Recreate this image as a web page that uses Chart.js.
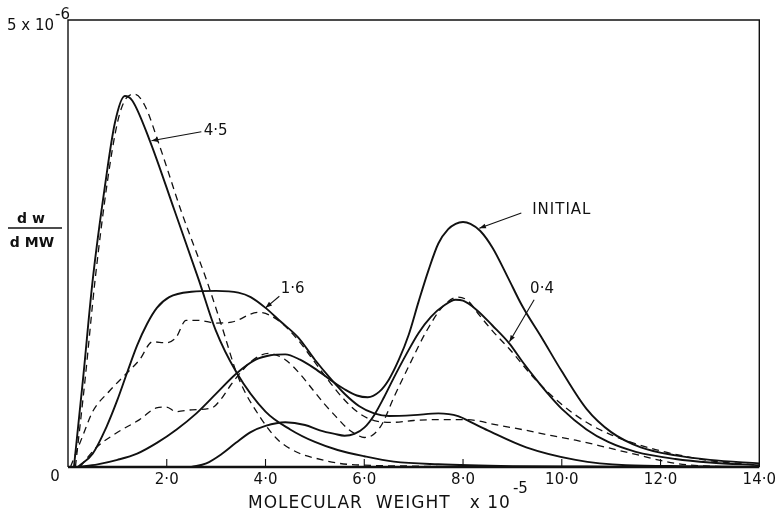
<!DOCTYPE html>
<html>
<head>
<meta charset="utf-8">
<script src="https://cdn.jsdelivr.net/npm/chart.js@4.4.1/dist/chart.umd.min.js"></script>
<style>
  html, body { margin: 0; padding: 0; background: #fff; }
  #wrap { width: 780px; height: 518px; }
</style>
</head>
<body>
<div id="wrap"><canvas id="mwChart" width="780" height="518"></canvas></div>
<script>
// molecular weight (x 10^5) vs dw/dMW (x 10^-6)
const xTicks = [0, 2, 4, 6, 8, 10, 12, 14];

const initialX = [0.2, 0.6, 1.0, 1.4, 1.8, 2.2, 2.6, 3.0, 3.4, 3.8, 4.1, 4.4, 4.7, 5.0, 5.3, 5.6, 5.85, 6.07, 6.3, 6.5, 6.7, 6.9, 7.1, 7.3, 7.5, 7.7, 7.85, 8.0, 8.15, 8.35, 8.6, 8.9, 9.2, 9.6, 10.0, 10.5, 11.0, 11.6, 12.3, 13.0, 14.0];
const initialY = [0, 0.03, 0.08, 0.15, 0.27, 0.42, 0.6, 0.82, 1.04, 1.2, 1.25, 1.26, 1.2, 1.1, 0.98, 0.87, 0.8, 0.78, 0.84, 0.98, 1.2, 1.48, 1.85, 2.2, 2.5, 2.66, 2.72, 2.74, 2.72, 2.64, 2.45, 2.13, 1.8, 1.44, 1.07, 0.65, 0.39, 0.22, 0.13, 0.08, 0.04];

const run04X = [2.5, 2.8, 3.1, 3.4, 3.7, 4.0, 4.4, 4.8, 5.1, 5.4, 5.6, 5.8, 6.0, 6.2, 6.4, 6.6, 6.85, 7.1, 7.35, 7.6, 7.85, 8.0, 8.27, 8.6, 8.94, 9.2, 9.48, 9.75, 10.0, 10.5, 10.94, 11.5, 12.3, 13.0, 14.0];
const run04Y = [0, 0.04, 0.14, 0.27, 0.39, 0.46, 0.5, 0.47, 0.41, 0.37, 0.35, 0.37, 0.44, 0.58, 0.78, 1.0, 1.26, 1.5, 1.68, 1.8, 1.87, 1.86, 1.76, 1.58, 1.38, 1.18, 0.98, 0.8, 0.65, 0.42, 0.28, 0.17, 0.09, 0.05, 0.02];

const calc04X = [0.24, 0.58, 0.98, 1.45, 1.79, 1.99, 2.19, 2.51, 2.91, 3.1, 3.3, 3.5, 3.75, 4.06, 4.4, 4.7, 4.95, 5.2, 5.45, 5.66, 5.85, 6.0, 6.15, 6.35, 6.6, 6.93, 7.27, 7.6, 7.9, 8.1, 8.3, 8.6, 8.94, 9.48, 10.0, 10.5, 11.0, 11.5, 12.0, 12.5, 13.0, 14.0];
const calc04Y = [0, 0.22, 0.38, 0.53, 0.66, 0.67, 0.62, 0.64, 0.66, 0.76, 0.92, 1.06, 1.2, 1.27, 1.2, 1.04, 0.87, 0.7, 0.55, 0.43, 0.36, 0.33, 0.35, 0.47, 0.78, 1.16, 1.53, 1.8, 1.9, 1.86, 1.72, 1.52, 1.32, 0.97, 0.7, 0.5, 0.36, 0.26, 0.18, 0.12, 0.07, 0.02];

const run16X = [0.2, 0.5, 0.78, 1.0, 1.2, 1.4, 1.6, 1.8, 2.05, 2.5, 3.0, 3.45, 3.7, 4.0, 4.3, 4.66, 5.0, 5.3, 5.6, 5.9, 6.2, 6.5, 7.0, 7.5, 7.9, 8.2, 8.5, 9.28, 10.28, 11.3, 12.5, 14.0];
const run16Y = [0, 0.15, 0.45, 0.75, 1.06, 1.36, 1.6, 1.78, 1.9, 1.96, 1.97, 1.95, 1.9, 1.78, 1.63, 1.45, 1.2, 1.0, 0.82, 0.68, 0.6, 0.57, 0.58, 0.6, 0.57, 0.49, 0.41, 0.22, 0.08, 0.02, 0.01, 0];

const calc16X = [0.05, 0.3, 0.5, 0.84, 1.1, 1.45, 1.71, 1.99, 2.19, 2.39, 2.65, 2.99, 3.31, 3.86, 4.26, 4.66, 4.92, 5.3, 5.6, 5.9, 6.2, 6.6, 7.0, 7.5, 8.0, 8.27, 8.6, 9.28, 9.8, 10.28, 10.9, 11.5, 12.3, 13.0, 14.0];
const calc16Y = [0, 0.35, 0.62, 0.85, 1.0, 1.2, 1.4, 1.39, 1.45, 1.64, 1.64, 1.61, 1.62, 1.73, 1.64, 1.42, 1.23, 0.95, 0.75, 0.6, 0.52, 0.5, 0.52, 0.53, 0.53, 0.52, 0.48, 0.41, 0.35, 0.3, 0.22, 0.14, 0.04, 0.01, 0];

const run45X = [0.12, 0.3, 0.5, 0.75, 0.95, 1.15, 1.3, 1.65, 2.15, 2.65, 2.99, 3.41, 4.0, 4.5, 5.0, 5.46, 6.0, 6.6, 7.5, 9.0, 10.5, 12.0, 14.0];
const run45Y = [0, 0.96, 2.09, 3.15, 3.85, 4.15, 4.1, 3.66, 2.88, 2.09, 1.53, 1.06, 0.62, 0.42, 0.28, 0.19, 0.12, 0.06, 0.03, 0.01, 0.005, 0, 0];

const calc45X = [0.15, 0.35, 0.55, 0.8, 1.0, 1.15, 1.35, 1.55, 1.85, 2.3, 2.8, 3.1, 3.45, 3.9, 4.26, 4.7, 5.0, 5.5, 6.0, 7.0, 8.0];
const calc45Y = [0, 1.0, 2.1, 3.2, 3.85, 4.1, 4.17, 4.05, 3.6, 2.85, 2.1, 1.6, 1.0, 0.55, 0.3, 0.15, 0.1, 0.04, 0.02, 0.01, 0];

// curve labels with their pointer lines (data coordinates)
const notes = [
    { text: '4·5',     x: 2.99, y: 3.76, from: [2.7, 3.75],  to: [1.69, 3.65] },
    { text: '1·6',     x: 4.55, y: 1.99, from: [4.28, 1.91], to: [4.0, 1.78] },
    { text: 'INITIAL', x: 10.0, y: 2.87, from: [9.18, 2.84], to: [8.33, 2.67] },
    { text: '0·4',     x: 9.6,  y: 1.99, from: [9.44, 1.87], to: [8.94, 1.4] }
];

function pts(xs, ys) {
    return xs.map((x, i) => ({ x: x, y: ys[i] }));
}

function line(label, xs, ys, dashed) {
    return {
        label: label,
        data: pts(xs, ys),
        borderColor: '#111',
        borderWidth: dashed ? 1.3 : 1.9,
        borderDash: dashed ? [7, 5] : [],
        pointRadius: 0,
        fill: false,
        cubicInterpolationMode: 'monotone'
    };
}

const FONT = '"DejaVu Sans", sans-serif';

const figurePlugin = {
    id: 'figure',
    beforeDraw(chart) {
        const ctx = chart.ctx;
        ctx.save();
        ctx.fillStyle = '#fff';
        ctx.fillRect(0, 0, chart.width, chart.height);
        ctx.restore();
    },
    afterDatasetsDraw(chart) {
        const ctx = chart.ctx;
        const a = chart.chartArea;
        const xs = chart.scales.x, ys = chart.scales.y;
        ctx.save();
        ctx.strokeStyle = '#111';
        ctx.fillStyle = '#111';

        // frame
        ctx.lineWidth = 1.4;
        ctx.beginPath();
        ctx.moveTo(a.left, a.bottom);
        ctx.lineTo(a.left, a.top);
        ctx.lineTo(a.right, a.top);
        ctx.lineTo(a.right, a.bottom);
        ctx.stroke();
        ctx.lineWidth = 2.6;
        ctx.beginPath();
        ctx.moveTo(a.left, a.bottom);
        ctx.lineTo(a.right, a.bottom);
        ctx.stroke();

        // small inward ticks
        ctx.lineWidth = 1.1;
        xTicks.slice(1, -1).forEach(v => {
            const px = xs.getPixelForValue(v);
            ctx.beginPath();
            ctx.moveTo(px, a.bottom);
            ctx.lineTo(px, a.bottom - 8);
            ctx.stroke();
        });

        // curve labels + pointers
        ctx.font = '15px ' + FONT;
        ctx.textAlign = 'center';
        ctx.textBaseline = 'middle';
        notes.forEach(n => {
            const x0 = xs.getPixelForValue(n.from[0]), y0 = ys.getPixelForValue(n.from[1]);
            const x1 = xs.getPixelForValue(n.to[0]), y1 = ys.getPixelForValue(n.to[1]);
            ctx.lineWidth = 1.1;
            ctx.beginPath();
            ctx.moveTo(x0, y0);
            ctx.lineTo(x1, y1);
            ctx.stroke();
            const ang = Math.atan2(y1 - y0, x1 - x0);
            ctx.beginPath();
            ctx.moveTo(x1, y1);
            ctx.lineTo(x1 - 7 * Math.cos(ang - 0.35), y1 - 7 * Math.sin(ang - 0.35));
            ctx.lineTo(x1 - 7 * Math.cos(ang + 0.35), y1 - 7 * Math.sin(ang + 0.35));
            ctx.closePath();
            ctx.fill();
            ctx.letterSpacing = n.text.length > 3 ? '1px' : '0px';
            ctx.fillText(n.text, xs.getPixelForValue(n.x), ys.getPixelForValue(n.y));
        });
        ctx.letterSpacing = '0px';

        // y axis: 5 x 10^-6 and 0
        ctx.font = '15px ' + FONT;
        ctx.textAlign = 'right';
        ctx.textBaseline = 'alphabetic';
        ctx.fillText('5 x 10', 54, 30);
        ctx.textAlign = 'left';
        ctx.fillText('-6', 55, 19);
        ctx.textAlign = 'center';
        ctx.textBaseline = 'middle';
        ctx.fillText('0', 55, 477);

        // dw / dMW
        ctx.font = 'bold 14px ' + FONT;
        ctx.textBaseline = 'alphabetic';
        ctx.fillText('d w', 31, 223);
        ctx.fillText('d MW', 32, 247);
        ctx.lineWidth = 1.5;
        ctx.beginPath();
        ctx.moveTo(8, 228);
        ctx.lineTo(62, 228);
        ctx.stroke();

        // x title
        ctx.font = '17px ' + FONT;
        ctx.textAlign = 'left';
        ctx.letterSpacing = '1px';
        ctx.fillText('MOLECULAR  WEIGHT   x 10', 248, 508);
        const w = ctx.measureText('MOLECULAR  WEIGHT   x 10').width;
        ctx.letterSpacing = '0px';
        ctx.font = '15px ' + FONT;
        ctx.fillText('-5', 250 + w, 493);
        ctx.restore();
    }
};

new Chart(document.getElementById('mwChart'), {
    type: 'line',
    data: {
        datasets: [
            line('INITIAL', initialX, initialY, false),
            line('0.4', run04X, run04Y, false),
            line('0.4 calc', calc04X, calc04Y, true),
            line('1.6', run16X, run16Y, false),
            line('1.6 calc', calc16X, calc16Y, true),
            line('4.5', run45X, run45Y, false),
            line('4.5 calc', calc45X, calc45Y, true)
        ]
    },
    options: {
        responsive: false,
        animation: false,
        devicePixelRatio: 1,
        layout: { padding: { left: 0, right: 17, top: 20, bottom: 0 } },
        plugins: { legend: { display: false }, tooltip: { enabled: false } },
        scales: {
            x: {
                type: 'linear',
                min: 0,
                max: 14,
                grid: { display: false, drawTicks: false },
                border: { display: false },
                afterBuildTicks: s => { s.ticks = xTicks.map(v => ({ value: v })); },
                afterFit: s => { s.height = 51; },
                ticks: {
                    padding: 4,
                    color: '#111',
                    font: { family: FONT, size: 15 },
                    callback: v => v === 0 ? '' : v.toFixed(1).replace('.', '·')
                }
            },
            y: {
                min: 0,
                max: 5,
                grid: { display: false, drawTicks: false },
                border: { display: false },
                ticks: { display: false },
                afterFit: s => { s.width = 68; }
            }
        }
    },
    plugins: [figurePlugin]
});
</script>
</body>
</html>
